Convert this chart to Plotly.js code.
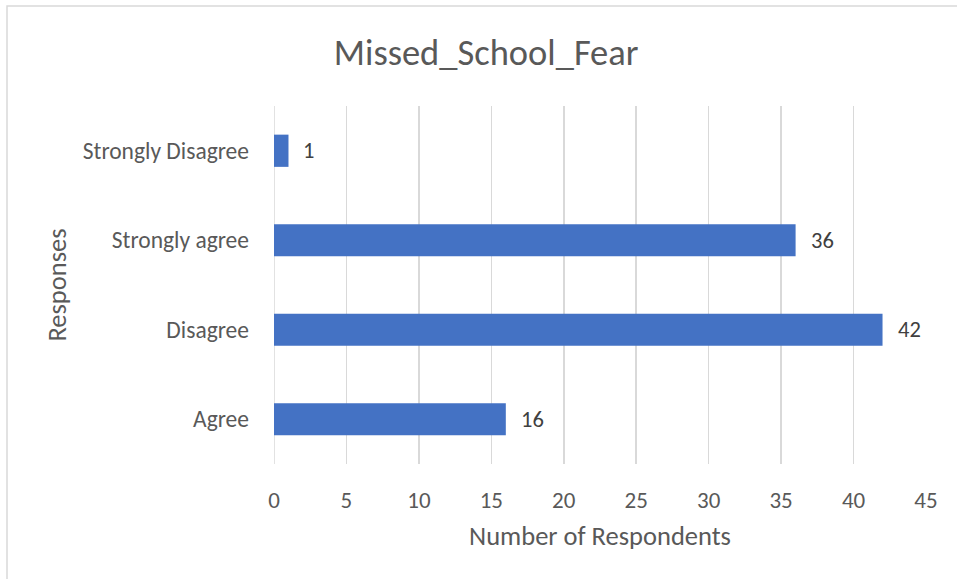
<!DOCTYPE html>
<html>
<head>
<meta charset="utf-8">
<script src="https://cdn.plot.ly/plotly-3.0.1.min.js"></script>
<style>html,body{margin:0;padding:0;background:#fff;}#chart{width:957px;height:579px;}</style>
</head>
<body>
<div id="chart"></div>
<script>
const categories = ["Agree", "Disagree", "Strongly agree", "Strongly Disagree"];
const respondents = [16, 42, 36, 1];
const xTicks = [0, 5, 10, 15, 20, 25, 30, 35, 40, 45];

const FONT = "Carlito, Lato, 'Liberation Sans', sans-serif";
const TXT = "#595959";

const trace = {
  type: "bar",
  orientation: "h",
  x: respondents,
  y: categories,
  marker: {color: "#4472C4"},
  hoverinfo: "x+y"
};

const annotations = categories.map((c, i) => ({
  x: respondents[i], y: c, xref: "x", yref: "y",
  text: String(respondents[i]), showarrow: false,
  xanchor: "left", xshift: 13,
  font: {family: FONT, size: 22.5, color: "#404040"}
}));

const layout = {
  width: 957, height: 579,
  margin: {l: 274, r: 31, t: 106, b: 115},
  paper_bgcolor: "#fff", plot_bgcolor: "#fff",
  bargap: 0.64,
  showlegend: false,
  title: {text: "Missed_School_Fear", x: 0.508, xanchor: "center", y: 0.91, yanchor: "middle",
          font: {family: FONT, size: 36.5, color: TXT}},
  xaxis: {
    range: [0, 45], tickvals: xTicks, ticktext: xTicks.map(String),
    showgrid: true, gridcolor: "#d9d9d9", gridwidth: 1.5,
    zeroline: false, showline: false, ticks: "",
    ticklabelstandoff: 20,
    tickfont: {family: FONT, size: 23, color: TXT},
    title: {text: "Number of Respondents", standoff: 13, font: {family: FONT, size: 26.5, color: TXT}},
    fixedrange: true
  },
  yaxis: {
    type: "category", categoryorder: "array", categoryarray: categories,
    range: [-0.5, 3.5],
    showgrid: false, zeroline: false, showline: false, ticks: "",
    ticklabelstandoff: 24,
    tickfont: {family: FONT, size: 23.5, color: TXT},
    title: {text: "Responses", standoff: 8, font: {family: FONT, size: 26.5, color: TXT}},
    fixedrange: true
  },
  annotations: annotations,
  shapes: [
    {type: "line", xref: "x", yref: "paper", x0: 0, x1: 0, y0: 0, y1: 1,
     line: {color: "#d9d9d9", width: 1.5}, layer: "below"},
    {type: "rect", xref: "paper", yref: "paper", x0: -0.4095, x1: 1.2, y0: -0.4, y1: 1.2793,
     line: {color: "#d9d9d9", width: 1.5}, fillcolor: "rgba(0,0,0,0)", layer: "below"}
  ]
};

Plotly.newPlot("chart", [trace], layout, {displayModeBar: false, staticPlot: true});
</script>
</body>
</html>
